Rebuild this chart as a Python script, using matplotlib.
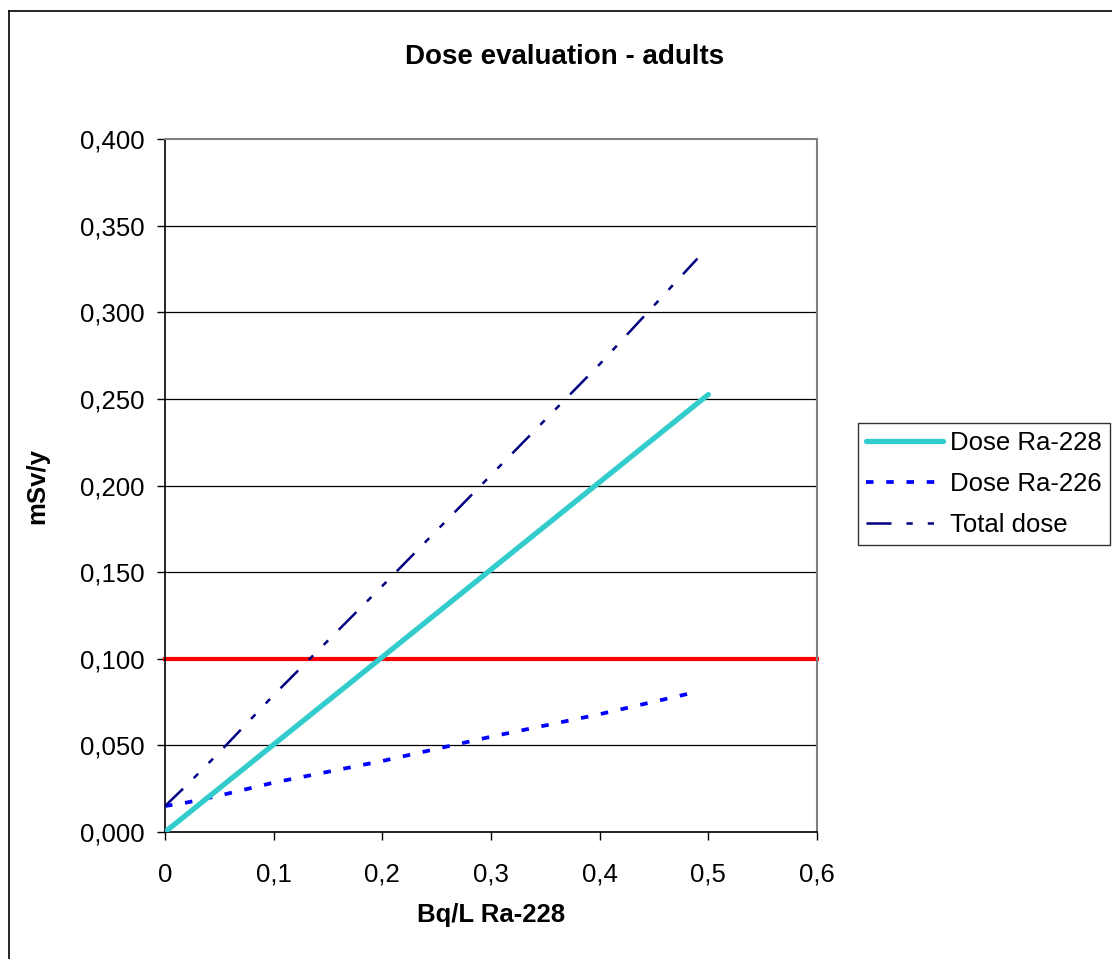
import matplotlib
matplotlib.use("Agg")
import matplotlib.pyplot as plt
from matplotlib.lines import Line2D

plt.rcParams['font.family'] = ['Liberation Sans', 'DejaVu Sans']

# Data
x_ra228 = [0.0, 0.1, 0.2, 0.3, 0.4, 0.5]
y_ra228 = [0.0, 0.0505, 0.101, 0.1515, 0.202, 0.2525]

x_ra226 = [0.0, 0.02, 0.05, 0.1, 0.2, 0.3, 0.4, 0.49]
y_ra226 = [0.015, 0.017, 0.021, 0.0285, 0.041, 0.055, 0.068, 0.081]

x_total = [0.0, 0.02, 0.05, 0.1, 0.2, 0.3, 0.4, 0.49]
y_total = [0.015, 0.027, 0.046, 0.079, 0.142, 0.206, 0.270, 0.331]

limit_x = [0.0, 0.6]
limit_y = [0.1, 0.1]

xticks = [0, 0.1, 0.2, 0.3, 0.4, 0.5, 0.6]
xticklabels = ["0", "0,1", "0,2", "0,3", "0,4", "0,5", "0,6"]
yticks = [0.0, 0.05, 0.1, 0.15, 0.2, 0.25, 0.3, 0.35, 0.4]
yticklabels = ["0,000", "0,050", "0,100", "0,150", "0,200", "0,250", "0,300", "0,350", "0,400"]

W, H = 1112, 959
fig = plt.figure(figsize=(W / 100, H / 100), dpi=100)
L, R, T, B = 165, 817, 139, 832
ax = fig.add_axes([L / W, 1 - B / H, (R - L) / W, (B - T) / H])

fs = 18.5
ax.set_xlim(0, 0.6)
ax.set_ylim(0, 0.4)

for y in yticks[1:-1]:
    ax.axhline(y, color='black', lw=0.9, zorder=1)

l228, = ax.plot(x_ra228, y_ra228, color='#33CCCC', lw=3.8, solid_capstyle='round', zorder=4, label='Dose Ra-228')
l226, = ax.plot(x_ra226, y_ra226, color='#0000FF', lw=2.7, zorder=3, label='Dose Ra-226')
l226.set_dashes([2.0, 3.4])
ltot, = ax.plot(x_total, y_total, color='#000080', lw=1.8, zorder=3, label='Total dose')
ltot.set_dashes([10.0, 6.0, 2.5, 6.0, 2.5, 6.0])
ax.plot(limit_x, limit_y, color='#FF0000', lw=3.0, zorder=2, clip_on=False)

ax.set_xticks(xticks)
ax.set_xticklabels(xticklabels, fontsize=fs)
ax.set_yticks(yticks)
ax.set_yticklabels(yticklabels, fontsize=fs)
ax.tick_params(direction='out', length=6, width=1, colors='black', pad=9)
ax.tick_params(axis='x', pad=16)

for s in ['left', 'bottom']:
    ax.spines[s].set_color('black')
    ax.spines[s].set_linewidth(1.2)
for s in ['top', 'right']:
    ax.spines[s].set_color('#808080')
    ax.spines[s].set_linewidth(1.5)

ax.set_xlabel('Bq/L Ra-228', fontsize=fs, fontweight='bold', labelpad=12)
ax.set_ylabel('mSv/y', fontsize=fs, fontweight='bold', labelpad=22)
fig.text(565 / W, 1 - 57 / H, 'Dose evaluation - adults', fontsize=20, fontweight='bold',
         ha='center', va='center')

leg = fig.legend(handles=[l228, l226, ltot], fontsize=fs, loc='upper left',
                 bbox_to_anchor=(858 / W, 1 - 423 / H), frameon=True, fancybox=False,
                 edgecolor='black', handlelength=3.0, handletextpad=0.25, labelspacing=0.66,
                 borderpad=0.32, borderaxespad=0)
leg.get_frame().set_linewidth(1.0)

# outer border (left and top visible)
fig.add_artist(Line2D([8.5 / W, 8.5 / W], [0, 1 - 10.5 / H], transform=fig.transFigure, color='black', lw=1.2))
fig.add_artist(Line2D([8.5 / W, 1], [1 - 10.5 / H, 1 - 10.5 / H], transform=fig.transFigure, color='black', lw=1.2))

fig.savefig('out.png', dpi=100)
